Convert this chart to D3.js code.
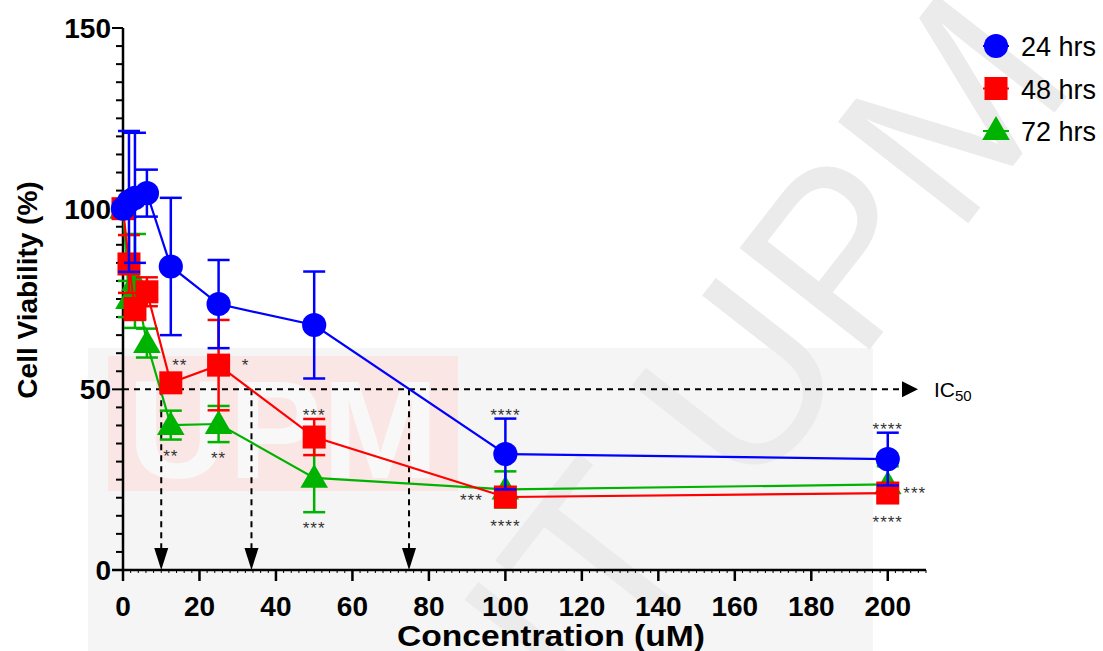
<!DOCTYPE html>
<html>
<head>
<meta charset="utf-8">
<script src="https://cdn.jsdelivr.net/npm/d3@7"></script>
<style>
  body { margin: 0; background: #fff; }
  svg { display: block; font-family: "Liberation Sans", Arial, sans-serif; }
</style>
</head>
<body>
<div id="chart"></div>
<script>
// concentrations (uM)
var CONC = [0, 1.5625, 3.125, 6.25, 12.5, 25, 50, 100, 200];
var SERIES = ["24 hrs", "48 hrs", "72 hrs"];
var COLORS = ["#0000ff", "#ff0000", "#00b300"];
// mean cell viability (%) per series
var MEAN_24 = [100, 102, 103, 104.3, 84, 73.6, 67.8, 32.1, 30.7];
var MEAN_48 = [100, 84.7, 72.2, 77, 51.8, 56.7, 36.8, 20.2, 21.3];
var MEAN_72 = [100, 75, 80, 62.8, 40.1, 40.4, 25.5, 22.3, 23.7];
// error bars (SD)
var SD_24 = [0, 19.5, 18, 6.5, 19, 12.2, 14.8, 9.8, 7.3];
var SD_48 = [0, 8, 3, 4, 2, 12.5, 5, 2, 1.5];
var SD_72 = [0, 5, 13, 4, 4, 5, 9.5, 5, 5];
var IC50 = [10, 33.6, 74.8];
var Y_TICKS = [0, 50, 100, 150];
var X_TICKS = [0, 20, 40, 60, 80, 100, 120, 140, 160, 180, 200];
// significance: [concentration, series index, side, label]
var STARS = [
  [12.5, 1, "upright", "**"],
  [25, 1, "right", "*"],
  [12.5, 2, "below", "**"],
  [25, 2, "below", "**"],
  [50, 1, "above", "***"],
  [50, 2, "below", "***"],
  [100, 0, "above", "****"],
  [100, 1, "left", "***"],
  [100, 1, "below", "****"],
  [200, 0, "above", "****"],
  [200, 1, "right", "***"],
  [200, 1, "below", "****"]
];

var means = [MEAN_24, MEAN_48, MEAN_72];
var sds = [SD_24, SD_48, SD_72];
var shapes = [d3.symbolCircle, d3.symbolSquare, d3.symbolTriangle];
var sizes = [460, 530, 330];

var W = 1103, H = 651;
var x = d3.scaleLinear().domain([0, 210]).range([123, 926]);
var y = d3.scaleLinear().domain([0, 150]).range([570, 28]);

var svg = d3.select("#chart").append("svg").attr("width", W).attr("height", H);

// faint watermark
var wm = svg.append("g").attr("class", "watermark");
wm.append("rect").attr("x", 88).attr("y", 348).attr("width", 785).attr("height", 303).attr("fill", "#f5f5f5");
wm.append("rect").attr("x", 108).attr("y", 356).attr("width", 350).attr("height", 135).attr("fill", "#fbe6e6");
wm.append("text").attr("x", 283).attr("y", 478).attr("text-anchor", "middle")
  .style("font-size", "140px").style("font-weight", "bold").attr("fill", "#f8f8f8").text("UPM");
wm.append("text").attr("transform", "translate(830,400) rotate(-52)")
  .attr("text-anchor", "middle").style("font-size", "240px").attr("fill", "#ebebeb")
  .text("IT UPM");

// axes
var ax = svg.append("g").attr("stroke", "#000");
ax.append("line").attr("x1", x(0)).attr("x2", x(0)).attr("y1", y(150)).attr("y2", y(0)).attr("stroke-width", 2.5);
ax.append("line").attr("x1", x(0) - 11).attr("x2", x(210)).attr("y1", y(0)).attr("y2", y(0)).attr("stroke-width", 2.5);
d3.range(0, 151, 5).forEach(function(v) {
  var major = v % 50 === 0;
  ax.append("line").attr("x1", x(0)).attr("x2", x(0) - (major ? 11 : 7))
    .attr("y1", y(v)).attr("y2", y(v)).attr("stroke-width", 2);
});
d3.range(0, 211, 2).forEach(function(v) {
  if (v % 20 === 0) return;
  ax.append("line").attr("x1", x(v)).attr("x2", x(v)).attr("y1", y(0)).attr("y2", y(0) + 3).attr("stroke-width", 1);
});
X_TICKS.forEach(function(v) {
  ax.append("line").attr("x1", x(v)).attr("x2", x(v)).attr("y1", y(0)).attr("y2", y(0) + 11).attr("stroke-width", 2.5);
});
svg.selectAll(".ylab").data(Y_TICKS).enter().append("text")
  .attr("x", x(0) - 12).attr("y", function(d) { return y(d) + 10; })
  .attr("text-anchor", "end").style("font-size", "28px").style("font-weight", "bold").text(function(d) { return d; });
svg.selectAll(".xlab").data(X_TICKS).enter().append("text")
  .attr("x", function(d) { return x(d); }).attr("y", 616)
  .attr("text-anchor", "middle").style("font-size", "28px").style("font-weight", "bold").text(function(d) { return d; });
svg.append("text").attr("transform", "translate(37,290) rotate(-90)").attr("text-anchor", "middle")
  .style("font-size", "28px").style("font-weight", "bold").text("Cell Viability (%)");
svg.append("text").attr("x", 397).attr("y", 646)
  .attr("textLength", 308).attr("lengthAdjust", "spacingAndGlyphs")
  .style("font-size", "29px").style("font-weight", "bold").text("Concentration (uM)");

// IC50 dashed guides
var ic = svg.append("g");
ic.append("line").attr("x1", x(0)).attr("x2", 902).attr("y1", y(50)).attr("y2", y(50))
  .attr("stroke", "#000").attr("stroke-width", 2).attr("stroke-dasharray", "6,5");
ic.append("path").attr("d", "M902," + (y(50) - 8) + "L918," + y(50) + "L902," + (y(50) + 8) + "Z").attr("fill", "#000");
var icl = ic.append("text").attr("x", 934).attr("y", y(50) + 8).style("font-size", "21px");
icl.append("tspan").text("IC");
icl.append("tspan").attr("dy", 4).style("font-size", "15px").text("50");
IC50.forEach(function(v) {
  ic.append("line").attr("x1", x(v)).attr("x2", x(v)).attr("y1", y(50)).attr("y2", y(0) - 20)
    .attr("stroke", "#000").attr("stroke-width", 2).attr("stroke-dasharray", "6,5");
  ic.append("path").attr("d", "M" + (x(v) - 7) + "," + (y(0) - 22) + "L" + x(v) + "," + y(0) + "L" + (x(v) + 7) + "," + (y(0) - 22) + "Z")
    .attr("fill", "#000");
});

// series, drawn 72 -> 48 -> 24 so blue lies on top
[2, 1, 0].forEach(function(s) {
  var g = svg.append("g");
  var pts = CONC.map(function(c, i) { return { c: c, m: means[s][i], sd: sds[s][i] }; });
  g.append("path").datum(pts)
    .attr("d", d3.line().x(function(d) { return x(d.c); }).y(function(d) { return y(d.m); }))
    .attr("fill", "none").attr("stroke", COLORS[s]).attr("stroke-width", 2.2);
  pts.forEach(function(d) {
    if (d.sd <= 0) return;
    var top = y(d.m + d.sd), bot = y(d.m - d.sd), cx = x(d.c);
    g.append("line").attr("x1", cx).attr("x2", cx).attr("y1", top).attr("y2", bot)
      .attr("stroke", COLORS[s]).attr("stroke-width", 2.5);
    [top, bot].forEach(function(yy) {
      g.append("line").attr("x1", cx - 11).attr("x2", cx + 11).attr("y1", yy).attr("y2", yy)
        .attr("stroke", COLORS[s]).attr("stroke-width", 2.5);
    });
  });
  g.selectAll(".pt").data(pts).enter().append("path")
    .attr("transform", function(d) { return "translate(" + x(d.c) + "," + (y(d.m) + (s === 2 ? 2 : 0)) + ")"; })
    .attr("d", d3.symbol().type(shapes[s]).size(sizes[s]))
    .attr("fill", COLORS[s]);
});

// significance stars
STARS.forEach(function(st) {
  var i = CONC.indexOf(st[0]), s = st[1];
  var cx = x(st[0]), cy = y(means[s][i]);
  var capTop = y(means[s][i] + sds[s][i]), capBot = y(means[s][i] - sds[s][i]);
  var px = cx, py = cy;
  if (st[2] === "above") py = Math.min(capTop - 7, cy - 22);
  if (st[2] === "below") py = Math.max(capBot + 13, cy + 26);
  if (st[2] === "left") { px = cx - 34; py = cy; }
  if (st[2] === "right") { px = cx + 27; py = cy - 3; }
  if (st[2] === "upright") { px = cx + 9; py = cy - 21; }
  svg.append("text").attr("x", px).attr("y", py + 9).attr("text-anchor", "middle")
    .style("font-size", "17px").attr("fill", "#333").style("letter-spacing", "1px").text(st[3]);
});

// legend
var lg = svg.append("g");
SERIES.forEach(function(name, s) {
  var ly = 46 + s * 42.5;
  lg.append("line").attr("x1", 983).attr("x2", 1009).attr("y1", ly).attr("y2", ly)
    .attr("stroke", COLORS[s]).attr("stroke-width", 2);
  lg.append("path").attr("transform", "translate(996," + (ly + (s === 2 ? 1 : 0)) + ")")
    .attr("d", d3.symbol().type(shapes[s]).size(sizes[s])).attr("fill", COLORS[s]);
  lg.append("text").attr("x", 1021).attr("y", ly + 10).style("font-size", "27px").text(name);
});
</script>
</body>
</html>
